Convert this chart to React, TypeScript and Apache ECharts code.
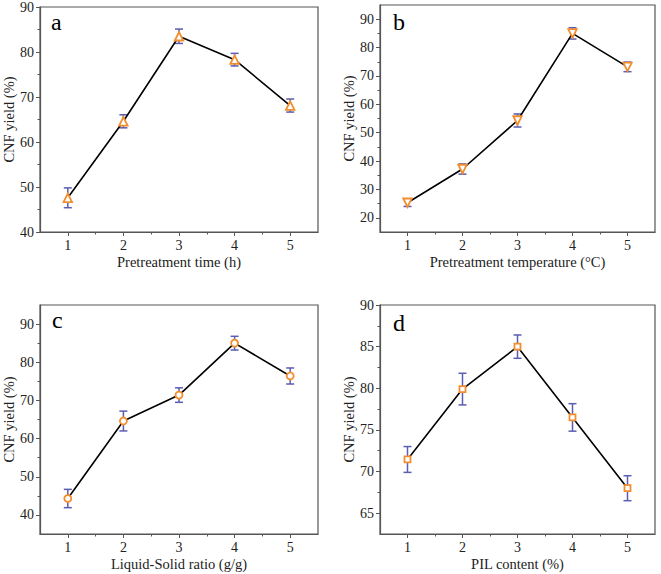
import React, { useEffect, useRef } from "react";
import * as echarts from "echarts";

// ---- data ----
const xValues = [1, 2, 3, 4, 5];
const xTicks = [1, 2, 3, 4, 5];
const xMinorTicks = [1.5, 2.5, 3.5, 4.5];

const yieldA = [47.6, 64.6, 83.5, 78.3, 68.1];
const errA = [2.2, 1.45, 1.6, 1.4, 1.45];
const yTicksA = [40, 50, 60, 70, 80, 90];
const yMinorA = [45, 55, 65, 75, 85];

const yieldB = [25.3, 37.2, 54.3, 85.0, 73.2];
const errB = [1.3, 1.8, 2.3, 2.0, 1.7];
const yTicksB = [20, 30, 40, 50, 60, 70, 80, 90];
const yMinorB = [25, 35, 45, 55, 65, 75, 85];

const yieldC = [44.3, 64.6, 71.4, 85.0, 76.4];
const errC = [2.4, 2.6, 1.9, 1.8, 2.1];
const yTicksC = [40, 50, 60, 70, 80, 90];
const yMinorC = [45, 55, 65, 75, 85];

const yieldD = [71.45, 79.9, 85.0, 76.5, 68.0];
const errD = [1.55, 1.9, 1.4, 1.65, 1.5];
const yTicksD = [65, 70, 75, 80, 85, 90];
const yMinorD = [67.5, 72.5, 77.5, 82.5, 87.5];

const panelLetters = ["a", "b", "c", "d"];
const xNames = [
  "Pretreatment time (h)",
  "Pretreatment temperature (\u00B0C)",
  "Liquid-Solid ratio (g/g)",
  "PIL content (%)",
];
const yName = "CNF yield (%)";

const FONT = "'Liberation Serif', 'Times New Roman', serif";
const AXIS_COLOR = "#555";
const TEXT_COLOR = "#222";
const ORANGE = "#F28E2E";
const BLUE = "#5A5DB0";

export default function App() {
  const ref = useRef<HTMLDivElement>(null);

  useEffect(() => {
    if (!ref.current) return;
    const chart = echarts.init(ref.current, null, { renderer: "svg" });

    const panels = [
      { grid: { left: 40, top: 5, width: 278, height: 227 }, y: yieldA, e: errA, ymin: 40, ymax: 90, yt: yTicksA, ym: yMinorA, symbol: "triangle", rot: 0, size: 8.5, lt: [46, 5] },
      { grid: { left: 380, top: 5, width: 275, height: 227 }, y: yieldB, e: errB, ymin: 15, ymax: 95, yt: yTicksB, ym: yMinorB, symbol: "triangle", rot: 180, size: 8.5, lt: [388, 5] },
      { grid: { left: 40, top: 305, width: 278, height: 229 }, y: yieldC, e: errC, ymin: 35, ymax: 95, yt: yTicksC, ym: yMinorC, symbol: "circle", rot: 0, size: 7, lt: [47, 303] },
      { grid: { left: 380, top: 305, width: 275, height: 229 }, y: yieldD, e: errD, ymin: 62.5, ymax: 90, yt: yTicksD, ym: yMinorD, symbol: "rect", rot: 0, size: 6, lt: [388, 306] },
    ];

    const grids: any[] = [];
    const xAxes: any[] = [];
    const yAxes: any[] = [];
    const series: any[] = [];
    const titles: any[] = [];

    panels.forEach((p, i) => {
      grids.push({
        ...p.grid,
        show: true,
        borderColor: AXIS_COLOR,
        borderWidth: 1.2,
        backgroundColor: "transparent",
      });
      xAxes.push({
        type: "value",
        gridIndex: i,
        position: "bottom",
        min: 0.5,
        max: 5.5,
        name: xNames[i],
        nameLocation: "middle",
        nameGap: 22,
        nameTextStyle: { fontFamily: FONT, fontSize: 14.5, color: TEXT_COLOR },
        axisLine: { show: true, onZero: false, lineStyle: { color: AXIS_COLOR, width: 1.2 } },
        axisTick: { show: true, customValues: xTicks, length: 4, lineStyle: { color: AXIS_COLOR } },
        axisLabel: { customValues: xTicks, margin: 6, fontFamily: FONT, fontSize: 14, color: TEXT_COLOR },
        splitLine: { show: false },
      });
      xAxes.push({
        type: "value",
        gridIndex: i,
        position: "bottom",
        min: 0.5,
        max: 5.5,
        axisLine: { show: false, onZero: false },
        axisTick: { show: true, customValues: xMinorTicks, length: 2.5, lineStyle: { color: AXIS_COLOR } },
        axisLabel: { show: false },
        splitLine: { show: false },
      });
      yAxes.push({
        type: "value",
        gridIndex: i,
        position: "left",
        min: p.ymin,
        max: p.ymax,
        name: yName,
        nameLocation: "middle",
        nameGap: 21,
        nameRotate: 90,
        nameTextStyle: { fontFamily: FONT, fontSize: 14.5, color: TEXT_COLOR },
        axisLine: { show: true, onZero: false, lineStyle: { color: AXIS_COLOR, width: 1.2 } },
        axisTick: { show: true, customValues: p.yt, length: 4, lineStyle: { color: AXIS_COLOR } },
        axisLabel: { customValues: p.yt, margin: 6, fontFamily: FONT, fontSize: 14, color: TEXT_COLOR },
        splitLine: { show: false },
      });
      yAxes.push({
        type: "value",
        gridIndex: i,
        position: "left",
        min: p.ymin,
        max: p.ymax,
        axisLine: { show: false, onZero: false },
        axisTick: { show: true, customValues: p.ym, length: 2.5, lineStyle: { color: AXIS_COLOR } },
        axisLabel: { show: false },
        splitLine: { show: false },
      });

      const errData = xValues.map((x, k) => [x, p.y[k] - p.e[k], p.y[k] + p.e[k]]);
      series.push({
        type: "custom",
        xAxisIndex: 2 * i,
        yAxisIndex: 2 * i,
        z: 2,
        data: errData,
        encode: { x: 0, y: [1, 2] },
        renderItem: (_params: any, api: any) => {
          const x = api.value(0);
          const lo = api.value(1);
          const hi = api.value(2);
          const top = api.coord([x, hi]);
          const bot = api.coord([x, lo]);
          const hw = 4;
          const style = { stroke: BLUE, lineWidth: 1.5, fill: "none" };
          return {
            type: "group",
            children: [
              { type: "line", shape: { x1: top[0], y1: top[1], x2: bot[0], y2: bot[1] }, style },
              { type: "line", shape: { x1: top[0] - hw, y1: top[1], x2: top[0] + hw, y2: top[1] }, style },
              { type: "line", shape: { x1: bot[0] - hw, y1: bot[1], x2: bot[0] + hw, y2: bot[1] }, style },
            ],
          };
        },
      });
      series.push({
        type: "line",
        xAxisIndex: 2 * i,
        yAxisIndex: 2 * i,
        z: 3,
        data: xValues.map((x, k) => [x, p.y[k]]),
        symbol: p.symbol,
        symbolRotate: p.rot,
        symbolSize: p.size,
        showSymbol: true,
        lineStyle: { color: "#000", width: 1.6 },
        itemStyle: { color: "#fff", borderColor: ORANGE, borderWidth: 1.8 },
      });

      titles.push({
        text: panelLetters[i],
        left: p.lt[0],
        top: p.lt[1],
        textStyle: { fontFamily: FONT, fontSize: 24, fontWeight: "normal", color: "#000" },
      });
    });

    chart.setOption({
      animation: false,
      backgroundColor: "#fff",
      title: titles,
      grid: grids,
      xAxis: xAxes,
      yAxis: yAxes,
      series,
    });

    return () => chart.dispose();
  }, []);

  return (
    <div
      ref={ref}
      style={{ position: "fixed", left: 0, top: 0, width: 661, height: 574, background: "#fff" }}
    />
  );
}
